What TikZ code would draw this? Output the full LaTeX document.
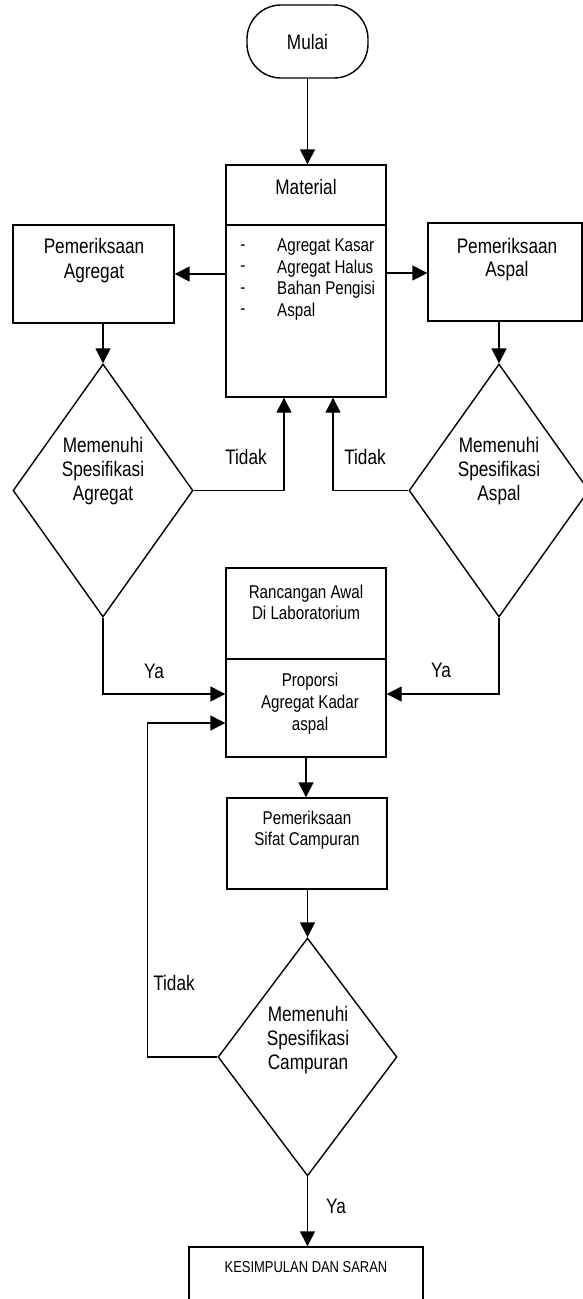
\documentclass[tikz,border=0pt]{standalone}
\usepackage{fontspec}
\setmainfont{Liberation Sans}[FakeStretch=0.82]
\usetikzlibrary{arrows.meta,shapes.geometric}
\tikzset{
  lw/.style={line width=1.4pt},
  box/.style={draw, lw, rectangle, inner sep=0pt},
  dec/.style={draw, lw, diamond, inner sep=0pt, aspect=1},
  arr/.style={lw, -{Triangle[length=15pt,width=15pt]}},
  conn/.style={lw},
  big/.style={font=\fontsize{21}{24}\selectfont, align=center, inner sep=0pt},
  mid/.style={font=\fontsize{18.5}{21.5}\selectfont, align=center, inner sep=0pt},
  lbl/.style={font=\fontsize{21}{24}\selectfont, inner sep=0pt},
}
\begin{document}
\begin{tikzpicture}[x=1pt,y=-1pt]
\fill[white] (0,0) rectangle (583,1299);
\useasboundingbox (0,0) rectangle (583,1299);

% Start
\node[draw, lw, rounded corners=34pt, minimum width=121pt, minimum height=73pt, inner sep=0pt, font=\fontsize{21}{24}\selectfont] (mulai) at (307.5,41.5) {Mulai};

% Material
\node[box, minimum width=160pt, minimum height=232pt] (material) at (306,281) {};
\draw[conn] (226,225) -- (386,225);
\node[big] (materialt) at (306,187) {Material};
\node[mid, align=center] (dashes) at (243,279.5) {-\\-\\-\\-};
\node[mid, align=left, anchor=west] (list) at (277,279.5) {Agregat Kasar\\Agregat Halus\\Bahan Pengisi\\Aspal};

% Pemeriksaan boxes
\node[box, minimum width=161pt, minimum height=98pt] (pagg) at (93.5,274) {};
\node[big, font=\fontsize{21}{25}\selectfont] (paggt) at (94,260.5) {Pemeriksaan\\Agregat};
\node[box, minimum width=154pt, minimum height=98pt] (pasp) at (505,272) {};
\node[big, font=\fontsize{21}{23}\selectfont] (paspt) at (507,259.5) {Pemeriksaan\\Aspal};

% Diamonds
\node[dec, minimum width=180pt, minimum height=253pt] (d1) at (103,490.5) {};
\node[big] (d1t) at (103,471) {Memenuhi\\Spesifikasi\\Agregat};
\node[dec, minimum width=180pt, minimum height=253pt] (d2) at (499,490.5) {};
\node[big] (d2t) at (499,471) {Memenuhi\\Spesifikasi\\Aspal};

% Rancangan / Proporsi
\node[box, minimum width=160pt, minimum height=91pt] (ranc) at (306,613.5) {};
\node[mid, font=\fontsize{18.5}{21}\selectfont] (ranct) at (306,602.5) {Rancangan Awal\\Di Laboratorium};
\node[box, minimum width=160pt, minimum height=98pt] (prop) at (306,708) {};
\node[mid, font=\fontsize{18.5}{22}\selectfont] (propt) at (310,704) {Proporsi\\Agregat Kadar\\aspal};

% Sifat campuran
\node[box, minimum width=160pt, minimum height=91pt] (sifat) at (307,843.5) {};
\node[mid, font=\fontsize{18.5}{21}\selectfont] (sifatt) at (307,830.5) {Pemeriksaan\\Sifat Campuran};

% Diamond 3
\node[dec, minimum width=179pt, minimum height=238pt] (d3) at (307.5,1057) {};
\node[big] (d3t) at (308,1040) {Memenuhi\\Spesifikasi\\Campuran};

% Kesimpulan
\node[box, minimum width=234pt, minimum height=73pt] (kes) at (306,1283.5) {};
\node[inner sep=0pt, font=\fontsize{15.8}{18}\selectfont] (kest) at (306,1267) {KESIMPULAN DAN SARAN};

% Connectors
\draw[arr] (mulai.south) -- (mulai.south |- material.north);
\draw[arr] (material.west |- pagg.east) -- (pagg.east);
\draw[arr] (material.east |- 0,273) -- (pasp.west |- 0,273);
\draw[arr] (pagg.south -| d1.north) -- (d1.north);
\draw[arr] (pasp.south -| d2.north) -- (d2.north);
\draw[arr] (d1.east) -| ([xshift=-22pt]material.south);
\draw[arr] (d2.west) -| ([xshift=27pt]material.south);
\draw[arr] (d1.south) |- ([yshift=14pt]prop.west);
\draw[arr] (d2.south) |- ([yshift=14pt]prop.east);
\draw[arr] (prop.south) -- (prop.south |- sifat.north);
\draw[arr] (sifat.south -| d3.north) -- (d3.north);
\draw[arr] (d3.west) -- ++(-70,0) coordinate (loopc) |- ([yshift=-15pt]prop.west);
\draw[arr] (d3.south) -- (d3.south |- kes.north);

% Labels
\node[lbl] (t1) at (246,457) {Tidak};
\node[lbl] (t2) at (365,457) {Tidak};
\node[lbl] (y1) at (154,671) {Ya};
\node[lbl] (y2) at (441,670) {Ya};
\node[lbl] (t3) at (174,983) {Tidak};
\node[lbl] (y3) at (336,1206) {Ya};
\end{tikzpicture}
\end{document}
